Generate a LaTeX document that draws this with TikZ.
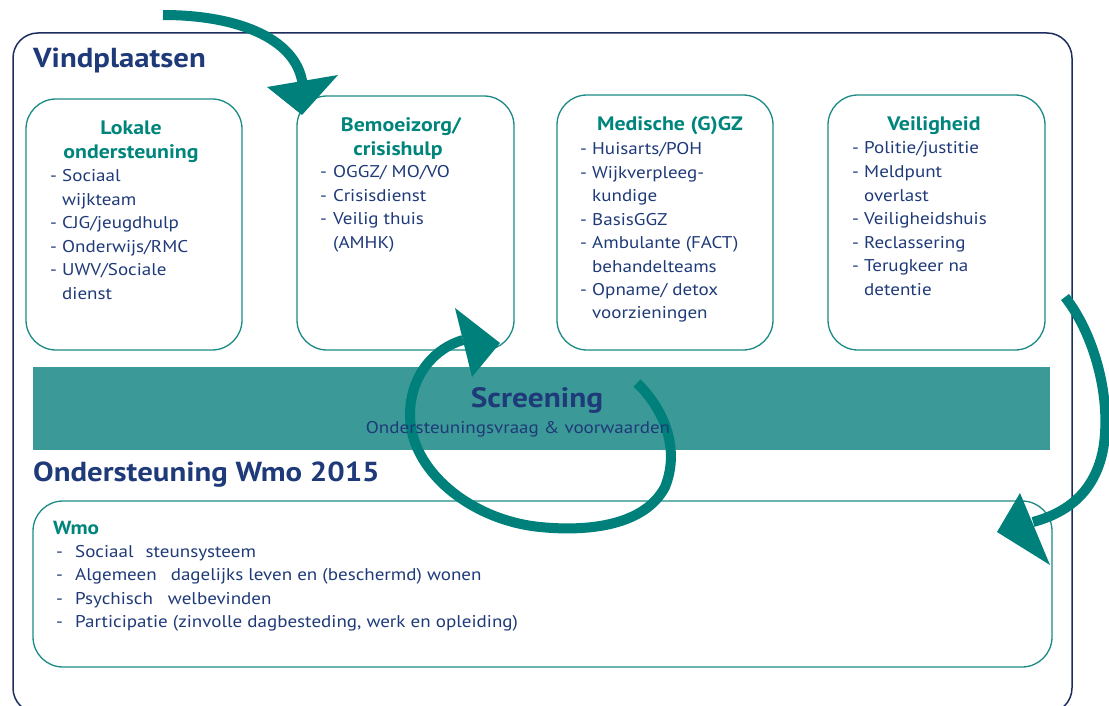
\documentclass[tikz,border=0pt]{standalone}
\usepackage{fontspec}
\setmainfont[FakeStretch=1.12]{PT Sans}
\definecolor{navy}{HTML}{1F3A78}
\definecolor{outerc}{HTML}{1C2D5E}
\definecolor{tealh}{HTML}{00857D}
\definecolor{tealb}{HTML}{1A8A84}
\definecolor{band}{HTML}{3B9A98}
\definecolor{arrowc}{HTML}{00807A}
\newcommand\itm[2]{\makebox[#1][l]{-}#2}
\newcommand\cnt[2]{\hspace*{#1}#2}
\begin{document}
\begin{tikzpicture}[x=1pt,y=-1pt,
  vbox/.style={draw=tealb, line width=1.3pt, rounded corners=30pt, inner sep=0pt},
  ttl/.style={anchor=base west, inner sep=0pt, text=navy, font=\fontsize{27.5}{30}\selectfont\bfseries},
  hd/.style={anchor=base, inner sep=0pt, text=tealh, font=\fontsize{19.5}{22}\selectfont\bfseries},
  itx/.style={anchor=base west, inner sep=0pt, text=navy, font=\fontsize{17}{20}\selectfont},
  shaft/.style={draw=arrowc, line width=10pt},
  headtri/.style={fill=arrowc}]
\useasboundingbox (0,0) rectangle (1109,706);
% outer frame
\node[draw=outerc, line width=1.5pt, rounded corners=25pt, minimum width=1059pt, minimum height=680pt, inner sep=0pt] (outer) at (542.5,373) {};
\node[ttl] (t1) at (33,68) {Vindplaatsen};
% boxes
\node[vbox, minimum width=216pt, minimum height=251pt] (b1) at (134,224.5) {};
\node[vbox, minimum width=217pt, minimum height=254pt] (b2) at (405.5,223) {};
\node[vbox, minimum width=216pt, minimum height=255pt] (b3) at (665,222.5) {};
\node[vbox, minimum width=217pt, minimum height=255pt] (b4) at (936.5,222.5) {};
% box 1
\node[hd] (h1a) at (131,135) {Lokale};
\node[hd] (h1b) at (131,158.5) {ondersteuning};
\foreach \t [count=\i from 0] in {{\itm{12pt}{Sociaal}},{\cnt{12pt}{wijkteam}},{\itm{12pt}{CJG/jeugdhulp}},{\itm{12pt}{Onderwijs/RMC}},{\itm{12pt}{UWV/Sociale}},{\cnt{12pt}{dienst}}}
  \node[itx] (b1t\i) at (50,181.5+23.5*\i) {\t};
% box 2
\node[hd] (h2a) at (401,132) {Bemoeizorg/};
\node[hd] (h2b) at (398,155.5) {crisishulp};
\foreach \t [count=\i from 0] in {{\itm{13pt}{OGGZ/ MO/VO}},{\itm{13pt}{Crisisdienst}},{\itm{13pt}{Veilig thuis}},{\cnt{13pt}{(AMHK)}}}
  \node[itx] (b2t\i) at (320,178+23.5*\i) {\t};
% box 3
\node[hd] (h3a) at (670,131) {Medische (G)GZ};
\foreach \t [count=\i from 0] in {{\itm{12pt}{Huisarts/POH}},{\itm{12pt}{Wijkverpleeg-}},{\cnt{12pt}{kundige}},{\itm{12pt}{BasisGGZ}},{\itm{12pt}{Ambulante (FACT)}},{\cnt{12pt}{behandelteams}},{\itm{12pt}{Opname/ detox}},{\cnt{12pt}{voorzieningen}}}
  \node[itx] (b3t\i) at (580,155+23.4*\i) {\t};
% box 4
\node[hd] (h4a) at (934,131) {Veiligheid};
\foreach \t [count=\i from 0] in {{\itm{12pt}{Politie/justitie}},{\itm{12pt}{Meldpunt}},{\cnt{12pt}{overlast}},{\itm{12pt}{Veiligheidshuis}},{\itm{12pt}{Reclassering}},{\itm{12pt}{Terugkeer na}},{\cnt{12pt}{detentie}}}
  \node[itx] (b4t\i) at (852,154+23.5*\i) {\t};
% screening band
\node[fill=band, minimum width=1017pt, minimum height=83pt, inner sep=0pt] (band) at (541.5,408.5) {};
% Wmo
\node[ttl] (t2) at (33,481.5) {Ondersteuning Wmo 2015};
\node[vbox, minimum width=1019pt, minimum height=166pt] (wmo) at (542.5,584) {};
\node[anchor=base west, inner sep=0pt, text=tealh, font=\fontsize{19}{22}\selectfont\bfseries] (wh) at (53,534) {Wmo};
\foreach \t [count=\i from 0] in {{\itm{19pt}{Sociaal\hspace{12pt}steunsysteem}},{\itm{19pt}{Algemeen\hspace{14pt}dagelijks leven en (beschermd) wonen}},{\itm{19pt}{Psychisch\hspace{15pt}welbevinden}},{\itm{19pt}{Participatie (zinvolle dagbesteding, werk en opleiding)}}}
  \node[itx] (w\i) at (56,557+23.5*\i) {\t};
% arrows
\coordinate (a1s) at (163,15);
\coordinate (a1e) at (303,88);
\draw[shaft] (a1s) .. controls (240,15) and (300,40) .. (a1e);
\fill[headtri] (267,87) -- (338,75) -- (302,115) -- cycle;
\coordinate (a2s) at (637,383);
\coordinate (a2e) at (463,340);
\draw[shaft] (a2s) .. controls (665,410) and (680,450) .. (665,487) .. controls (645,525) and (590,532) .. (540,527) .. controls (470,520) and (410,470) .. (410,415) .. controls (410,375) and (435,348) .. (a2e);
\fill[headtri] (455,308) -- (500,343) -- (472,377) -- cycle;
\coordinate (a3s) at (1065,297);
\coordinate (a3e) at (1033,522);
\draw[shaft] (a3s) .. controls (1095,335) and (1112,400) .. (1103,450) .. controls (1095,490) and (1070,512) .. (a3e);
\fill[headtri] (1020,493) -- (997,532) -- (1050,565) -- cycle;
% screening texts (on top of the loop)
\node[anchor=base, inner sep=0pt, text=navy, font=\fontsize{28}{30}\selectfont\bfseries] (scr) at (537,407) {Screening};
\node[anchor=base, inner sep=0pt, text=navy, font=\fontsize{17}{20}\selectfont] (scrsub) at (518,433) {Ondersteuningsvraag \& voorwaarden};
\end{tikzpicture}
\end{document}
